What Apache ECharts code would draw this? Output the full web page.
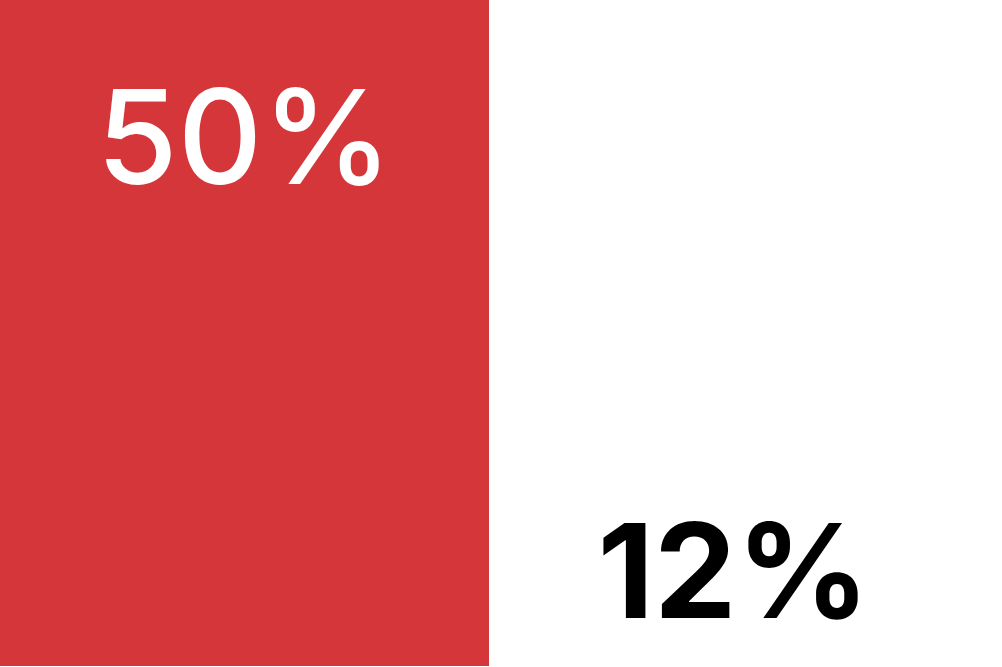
<!DOCTYPE html>
<html><head><meta charset="utf-8">
<script src="https://cdn.jsdelivr.net/npm/echarts@6/dist/echarts.min.js"></script>
<style>html,body{margin:0;padding:0;background:#fff}#c{width:1002px;height:667px}</style>
</head><body><div id="c"></div>
<script>
const categories = ['A', 'B'];
const values = [50, 12];
const labels = ['50%', '12%'];
const barColors = ['#d5363a', '#ffffff'];
const labelColors = ['#ffffff', '#000000'];
const labelWeights = [500, 700];
const labelDistances = [79, 7];

const chart = echarts.init(document.getElementById('c'), null, {renderer: 'canvas'});
chart.setOption({
  animation: false,
  grid: {left: 0, right: 24, top: 0, bottom: 1, containLabel: false},
  xAxis: {type: 'category', data: categories, show: false},
  yAxis: {type: 'value', min: 0, max: 50, show: false},
  series: [{
    type: 'bar',
    barCategoryGap: '0%',
    data: values.map((v, i) => ({
      value: v,
      itemStyle: {color: barColors[i]},
      label: {
        show: true,
        position: 'insideTop',
        distance: labelDistances[i],
        formatter: labels[i],
        color: labelColors[i],
        fontFamily: 'Inter',
        fontWeight: labelWeights[i],
        fontSize: 131
      }
    }))
  }]
});
</script></body></html>
